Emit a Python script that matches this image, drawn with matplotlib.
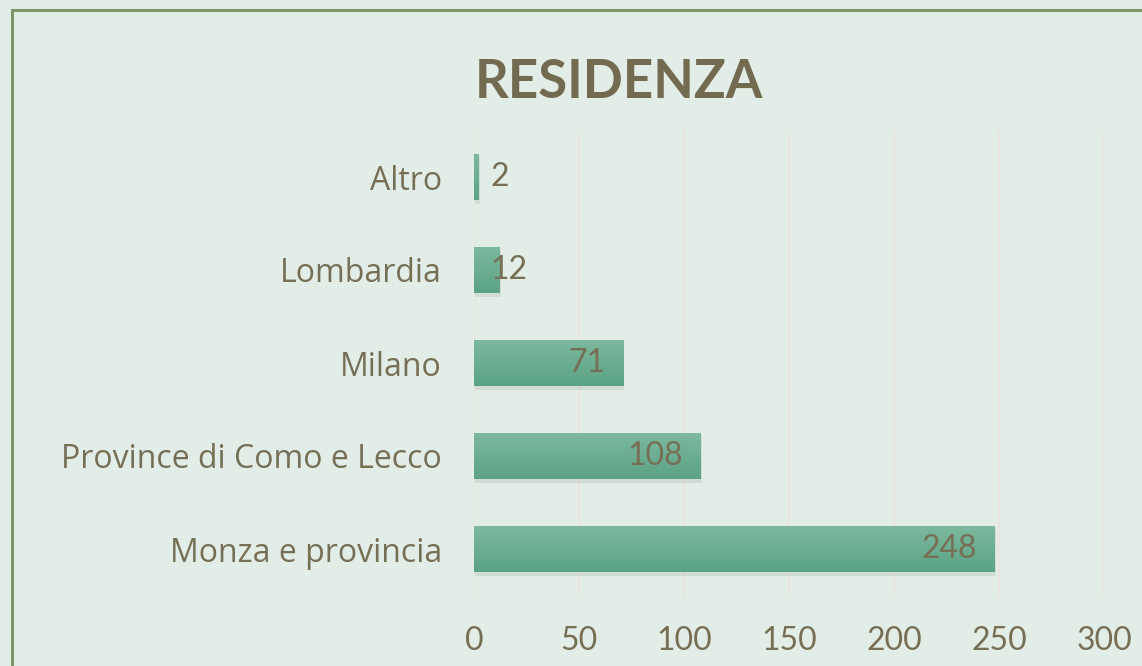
import numpy as np
import matplotlib.pyplot as plt
from matplotlib.patches import Rectangle
from matplotlib.colors import LinearSegmentedColormap
import matplotlib.patheffects as pe

categories = ["Monza e provincia", "Province di Como e Lecco", "Milano", "Lombardia", "Altro"]
values = [248, 108, 71, 12, 2]
xticks = [0, 50, 100, 150, 200, 250, 300]
title = "RESIDENZA"

bg = "#e3ede7"
text_col = "#776f55"
title_col = "#736b50"

plt.rcParams['font.family'] = ['Lato', 'DejaVu Sans']

fig = plt.figure(figsize=(11.42, 6.66), dpi=100, facecolor=bg)
ax = fig.add_axes([474 / 1142, 1 - 595.5 / 666, 630 / 1142, 465 / 666])
ax.set_facecolor("none")

# frame of the chart area (top and left edges visible)
fig.patches.append(Rectangle((12 / 1142, -0.1), 1.2, 1 - 9.5 / 666 + 0.1,
                             transform=fig.transFigure, fill=False,
                             edgecolor="#7f9669", linewidth=2.2, zorder=0))

y = np.arange(len(categories))
bars = ax.barh(y, values, height=0.5, color="#68ad8f", zorder=3,
               path_effects=[pe.SimplePatchShadow(offset=(1, -2.5), shadow_rgbFace="#000000", alpha=0.07),
                             pe.Normal()])

# vertical gradient on each bar (lighter on top)
grad = np.linspace(0, 1, 64).reshape(-1, 1)
cmap = LinearSegmentedColormap.from_list("g", ["#5ba385", "#7db99f"])
for b in bars:
    x0, y0, w, h = b.get_x(), b.get_y(), b.get_width(), b.get_height()
    im = ax.imshow(grad, extent=(x0, x0 + w, y0, y0 + h), aspect="auto",
                   cmap=cmap, zorder=4, origin="lower")
    im.set_clip_path(b)

ax.set_xlim(0, 300)
ax.set_ylim(-0.5, len(categories) - 0.5)
ax.set_xticks(xticks)
ax.set_yticks(y)
ax.set_yticklabels(categories, family=['Open Sans', 'DejaVu Sans'], fontsize=22)
ax.tick_params(axis="both", length=0, labelsize=23, labelcolor=text_col)
ax.tick_params(axis="x", pad=22)
ax.tick_params(axis="y", pad=23)
for s in ax.spines.values():
    s.set_visible(False)
ax.grid(axis="x", color="#ebe3e0", linewidth=1.3, zorder=1)
ax.set_axisbelow(True)

# value labels
for yi, v in zip(y, values):
    if v * 2.1 > 60:
        ax.annotate(str(v), (v, yi), xytext=(-13, 0), textcoords="offset points",
                    ha="right", va="center", fontsize=23, color=text_col, zorder=6)
    else:
        ax.annotate(str(v), (0, yi), xytext=(12, 0), textcoords="offset points",
                    ha="left", va="center", fontsize=23, color=text_col, zorder=6)

fig.text(619 / 1142, 1 - 83 / 666, title, ha="center", va="center",
         fontsize=38, fontweight="bold", color=title_col)

fig.savefig("out.png", dpi=100, facecolor=bg)
